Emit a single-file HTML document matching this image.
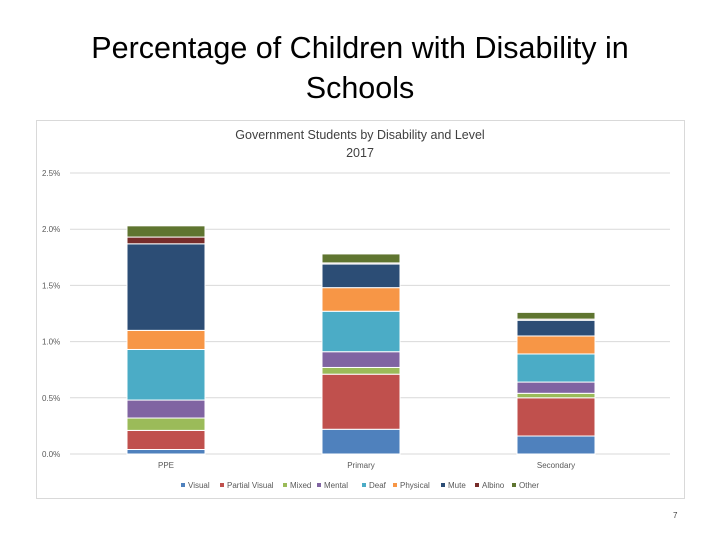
<!DOCTYPE html>
<html><head><meta charset="utf-8"><style>
body{margin:0;background:#fff;width:720px;height:540px;overflow:hidden;font-family:"Liberation Sans",sans-serif}
</style></head><body>
<svg width="720" height="540">
<text x="360" y="58" text-anchor="middle" font-size="30.5" fill="#000">Percentage of Children with Disability in</text>
<text x="360" y="98" text-anchor="middle" font-size="30.5" fill="#000">Schools</text>
<rect x="36.5" y="120.5" width="648" height="378" fill="#fff" stroke="#d9d9d9"/>
<text x="360" y="139" text-anchor="middle" font-size="12.5" fill="#404040">Government Students by Disability and Level</text>
<text x="360" y="157" text-anchor="middle" font-size="12.5" fill="#404040">2017</text>
<g id="grid"></g><g id="bars"></g><g id="legend"></g>
<text x="673" y="518" font-size="8" fill="#404040">7</text>
</svg>
<script>
const categories=["PPE","Primary","Secondary"];
const seriesNames=["Visual","Partial Visual","Mixed","Mental","Deaf","Physical","Mute","Albino","Other"];
const visual=[0.04,0.22,0.16];
const partialVisual=[0.17,0.49,0.34];
const mixed=[0.11,0.06,0.04];
const mental=[0.16,0.14,0.10];
const deaf=[0.45,0.36,0.25];
const physical=[0.17,0.21,0.16];
const mute=[0.77,0.21,0.14];
const albino=[0.06,0.01,0.01];
const other=[0.10,0.08,0.06];
const ticks=[0,0.5,1.0,1.5,2.0,2.5];
const tickLabels=["0.0%","0.5%","1.0%","1.5%","2.0%","2.5%"];
const colors=["#4f81bd","#c0504d","#9bbb59","#8064a2","#4bacc6","#f79646","#2c4d75","#772c2a","#5f7530"];
const series=[visual,partialVisual,mixed,mental,deaf,physical,mute,albino,other];
const NS="http://www.w3.org/2000/svg";
const y0=454,yTop=173,yMax=2.5;
function y(v){return y0-(v/yMax)*(y0-yTop);}
const L=68.5,bw=195;
function xc(i){return L+(i+0.5)*bw;}
function mk(t,a,p){const e=document.createElementNS(NS,t);for(const k in a)e.setAttribute(k,a[k]);p.appendChild(e);return e;}
const grid=document.getElementById('grid');
ticks.forEach((t,i)=>{
  const l=mk('line',{x1:70,x2:670,y1:y(t),y2:y(t),stroke:'#d9d9d9','stroke-width':1},grid);
  
  
  const tx=mk('text',{x:42,y:y(t)+3,'font-size':8,fill:'#595959'},grid);
  tx.textContent=tickLabels[i];
  
  
});
const bars=document.getElementById('bars');
categories.forEach((c,i)=>{
  let cum=0;
  series.forEach((s,j)=>{
    const v=s[i];
    const r=mk('rect',{x:xc(i)-39,y:y(cum+v),width:78,height:Math.max(0,y(cum)-y(cum+v)),fill:colors[j],stroke:'#fff','stroke-width':1},bars);
    
    
    cum+=v;
  });
  const t=mk('text',{x:xc(i),y:468,'font-size':8,fill:'#595959','text-anchor':'middle'},bars);
  t.textContent=c;
  
  
});
const lg=document.getElementById('legend');
const lx=[181,220,283,317,362,393,441,475,512];
seriesNames.forEach((n,j)=>{
  const r=mk('rect',{x:lx[j],y:483,width:4,height:4,fill:colors[j]},lg);
  
  
  const t=mk('text',{x:lx[j]+7,y:488,'font-size':8,fill:'#595959'},lg);
  t.textContent=n;
  
  
});
</script>
</body></html>
